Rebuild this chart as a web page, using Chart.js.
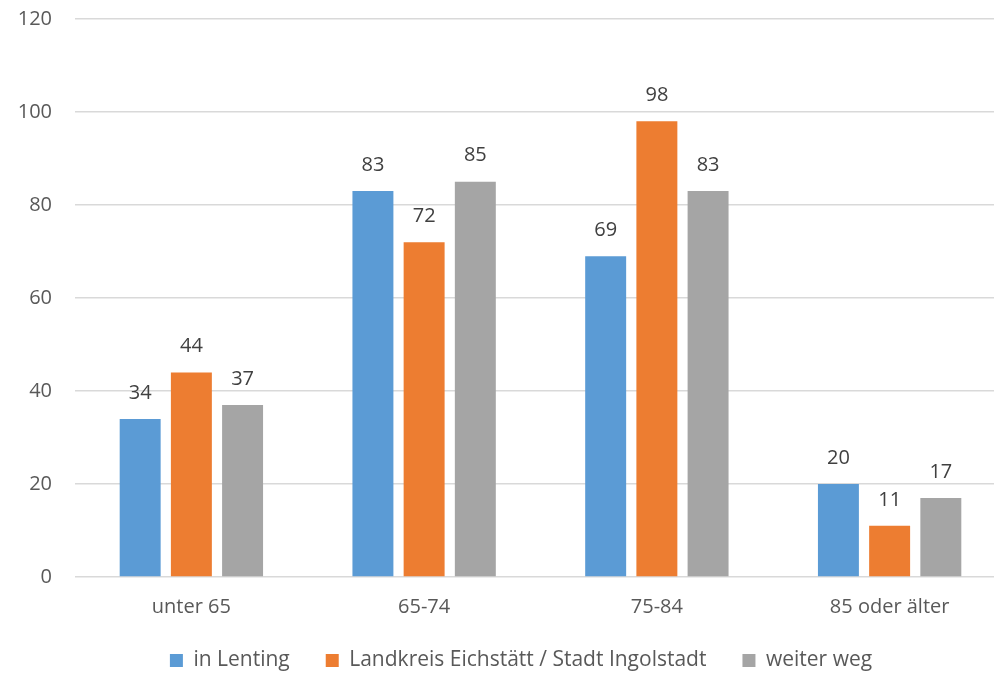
<!DOCTYPE html>
<html>
<head>
<meta charset="utf-8">
<script src="https://cdn.jsdelivr.net/npm/chart.js@4"></script>
<style>
	html, body { margin: 0; padding: 0; background: #fff; overflow: hidden; }
	#wrap { width: 1076px; height: 681px; }
</style>
</head>
<body>
<div id="wrap"><canvas id="chart" width="1076" height="681"></canvas></div>
<script>
const categories = ['unter 65', '65-74', '75-84', '85 oder älter']
const seriesNames = ['in Lenting', 'Landkreis Eichstätt / Stadt Ingolstadt', 'weiter weg']
const inLenting = [34, 83, 69, 20]
const landkreis = [44, 72, 98, 11]
const weiterWeg = [37, 85, 83, 17]
const colors = ['#5B9BD5', '#ED7D31', '#A5A5A5']

const fontFamily = '"Open Sans", sans-serif'
const fontSize = 20

// draws the value above each bar
const valueLabels = {
	id: 'valueLabels',
	afterDatasetsDraw(chart) {
		const ctx = chart.ctx
		ctx.save()
		ctx.font = `${fontSize}px ${fontFamily}`
		ctx.fillStyle = '#404040'
		ctx.textAlign = 'center'
		ctx.textBaseline = 'middle'
		chart.data.datasets.forEach((ds, i) => {
			chart.getDatasetMeta(i).data.forEach((bar, j) => {
				ctx.fillText(String(ds.data[j]), bar.x, bar.y - 26)
			})
		})
		ctx.restore()
	},
}

// nudge the legend a bit to the right, like the original
const legendShift = {
	id: 'legendShift',
	afterLayout(chart) {
		if (chart.legend) chart.legend.left += 36
	},
}

new Chart(document.getElementById('chart'), {
	type: 'bar',
	data: {
		labels: categories,
		datasets: [inLenting, landkreis, weiterWeg].map((values, i) => ({
			label: seriesNames[i],
			data: values,
			backgroundColor: colors[i],
			barPercentage: 0.8,
			categoryPercentage: 0.66,
		})),
	},
	options: {
		responsive: false,
		animation: false,
		layout: { padding: { top: 19, right: 70, bottom: 0, left: 0 } },
		plugins: {
			legend: {
				position: 'bottom',
				labels: {
					font: { family: fontFamily, size: 21 },
					color: '#595959',
					boxWidth: 13,
					boxHeight: 13,
					padding: 36,
				},
			},
			tooltip: { enabled: false },
		},
		scales: {
			x: {
				grid: { display: false },
				border: { display: false },
				ticks: {
					font: { family: fontFamily, size: fontSize },
					color: '#595959',
					padding: 10,
				},
				afterFit: (scale) => { scale.height = 37 },
			},
			y: {
				min: 0,
				max: 120,
				ticks: {
					stepSize: 20,
					font: { family: fontFamily, size: fontSize },
					color: '#595959',
					padding: 23,
				},
				grid: { color: '#D9D9D9', lineWidth: 1.5, drawTicks: false },
				border: { display: false },
				afterFit: (scale) => {
					scale.width = 75
					scale.paddingTop = 0
					scale.paddingBottom = 0
				},
			},
		},
	},
	plugins: [valueLabels, legendShift],
})
</script>
</body>
</html>
